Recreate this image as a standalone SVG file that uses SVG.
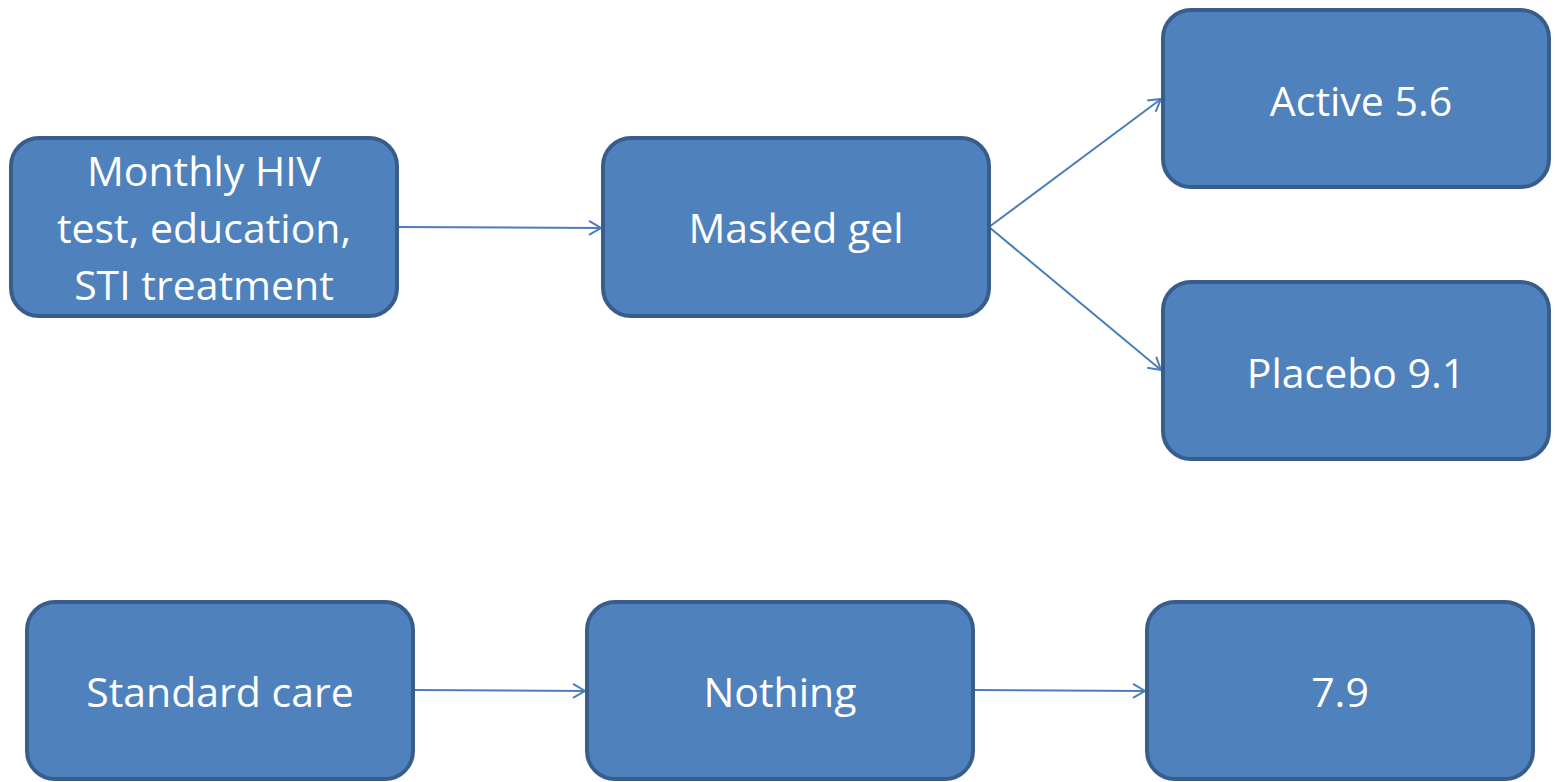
<svg xmlns="http://www.w3.org/2000/svg" width="1555" height="782" viewBox="0 0 1555 782">
<style>
.box{fill:#4F81BD;stroke:#385D8A;stroke-width:4}
.lbl{font-family:"Open Sans","Liberation Sans",sans-serif;font-size:41px;fill:#FFFFFF;text-anchor:middle}
.con{stroke:#4A7EBB;stroke-width:2;fill:none}
</style>
<defs>
<marker id="arr" markerUnits="userSpaceOnUse" markerWidth="24" markerHeight="24" refX="18" refY="10" orient="auto" viewBox="0 0 24 20">
<path d="M6,3 L18,10 L6,17" fill="none" stroke="#4A7EBB" stroke-width="2"/>
</marker>
</defs>
<rect width="1555" height="782" fill="#FFFFFF"/>
<g id="connectors">
<line class="con" x1="397" y1="227" x2="601" y2="228" marker-end="url(#arr)"/>
<line class="con" x1="989" y1="227" x2="1161" y2="99" marker-end="url(#arr)"/>
<line class="con" x1="989" y1="227" x2="1161" y2="370" marker-end="url(#arr)"/>
<line class="con" x1="413" y1="690" x2="585" y2="691" marker-end="url(#arr)"/>
<line class="con" x1="973" y1="690" x2="1145" y2="691" marker-end="url(#arr)"/>
</g>
<g id="monthly">
<rect class="box" x="11" y="138" width="386" height="178" rx="28"/>
<text class="lbl" x="204" y="186">Monthly HIV</text>
<text class="lbl" x="204" y="243">test, education,</text>
<text class="lbl" x="204" y="300">STI treatment</text>
</g>
<g id="masked">
<rect class="box" x="603" y="138" width="386" height="178" rx="28"/>
<text class="lbl" x="796" y="243">Masked gel</text>
</g>
<g id="active">
<rect class="box" x="1163" y="10" width="386" height="177" rx="28"/>
<text class="lbl" x="1361" y="116">Active 5.6</text>
</g>
<g id="placebo">
<rect class="box" x="1163" y="282" width="386" height="177" rx="28"/>
<text class="lbl" x="1356" y="388">Placebo 9.1</text>
</g>
<g id="standard">
<rect class="box" x="27" y="602" width="386" height="177" rx="28"/>
<text class="lbl" x="220" y="707">Standard care</text>
</g>
<g id="nothing">
<rect class="box" x="587" y="602" width="386" height="177" rx="28"/>
<text class="lbl" x="780" y="707">Nothing</text>
</g>
<g id="result79">
<rect class="box" x="1147" y="602" width="386" height="177" rx="28"/>
<text class="lbl" x="1340" y="707">7.9</text>
</g>
</svg>
